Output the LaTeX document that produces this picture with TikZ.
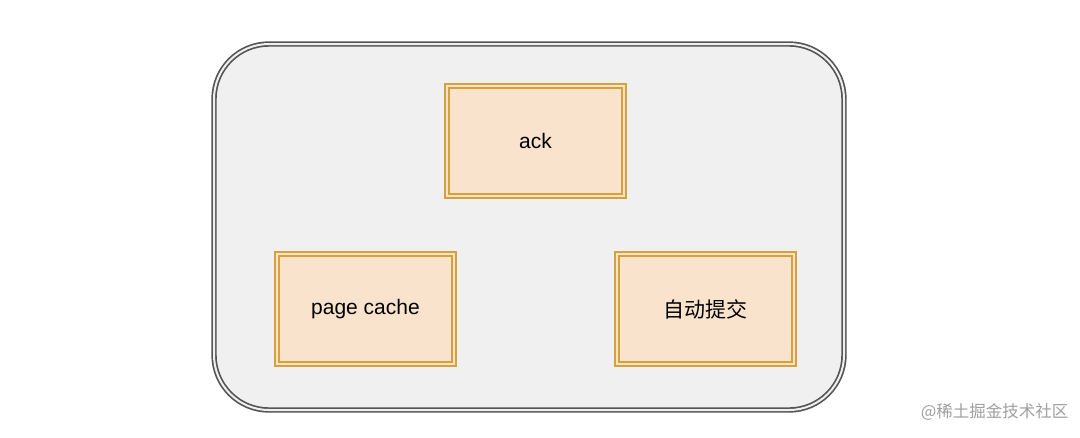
\documentclass[tikz,border=0pt]{standalone}
\usepackage{fontspec}
\setmainfont{Liberation Sans}
\newfontfamily\cjk{Noto Sans CJK SC}
\definecolor{boxfill}{HTML}{FAE3CC}
\definecolor{boxline}{HTML}{D6A03A}
\definecolor{outfill}{HTML}{F0F0F0}
\definecolor{outline}{HTML}{555555}
\begin{document}
\begin{tikzpicture}[x=1pt,y=-1pt,
  inner/.style={draw=boxline,double=boxfill,double distance=2.5pt,line width=2pt,fill=boxfill,minimum width=177pt,minimum height=110pt,inner sep=0pt,font=\fontsize{21}{24}\selectfont}]
\useasboundingbox (0,0) rectangle (1080,437);
\fill[white] (0,0) rectangle (1080,437);
\node[draw=outline,double=outfill,double distance=2pt,line width=1.7pt,fill=outfill,rounded corners=55pt,minimum width=630pt,minimum height=366pt,inner sep=0pt] (outer) at (529,227) {};
\node[inner] (ack) at (535.5,141) {ack};
\node[inner] (pc) at (365.5,309) {page cache};
\node[inner] (auto) at (705.5,309) {\cjk 自动提交};
\node[text=gray!75,font=\cjk\fontsize{16.5}{18}\selectfont,anchor=east] (wm) at (1072,412) {@稀土掘金技术社区};
\end{tikzpicture}
\end{document}
